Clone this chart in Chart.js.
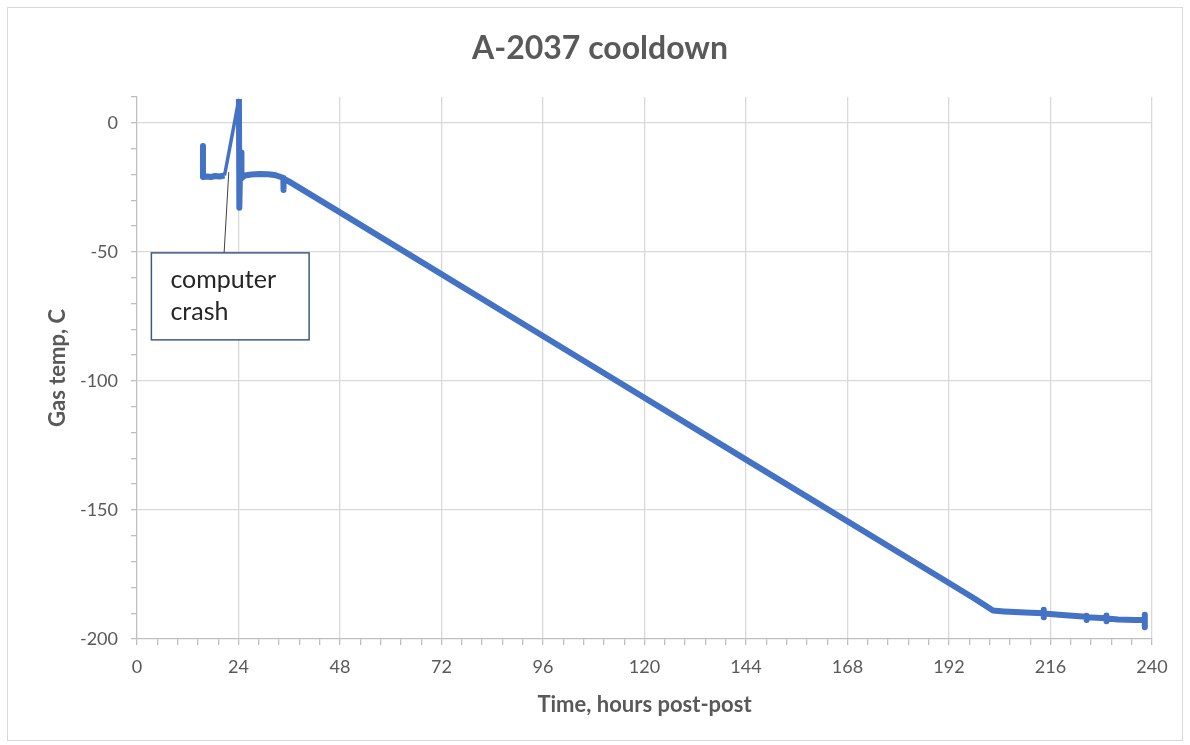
<!DOCTYPE html>
<html>
<head>
<meta charset="utf-8">
<script src="https://cdn.jsdelivr.net/npm/chart.js@4/dist/chart.umd.min.js"></script>
<style>
  html, body { margin: 0; padding: 0; background: #fff; }
  #wrap { width: 1190px; height: 745px; }
</style>
</head>
<body>
<div id="wrap"><canvas id="chart" width="1190" height="745"></canvas></div>
<script>
// ---- data (hours post-post, gas temp C) ----
const hours = [
  15.6, 15.6, 16.5, 17.5, 18.5, 19.5, 20.7,
  24.1, 24.2, 24.4, 24.6, 24.7,
  25.5, 27, 29, 31, 32.5, 34, 34.6, 34.6, 34.7, 36,
  48, 96, 144, 192, 198,
  202.4, 205, 210, 214.4, 214.4, 214.4, 214.5, 218, 222,
  224.5, 224.5, 224.5, 224.6, 229.2, 229.2, 229.2, 229.3, 232, 236,
  238.3, 238.3, 238.3, 238.3
];
const tempC = [
  -9.0, -21.0, -20.8, -21.0, -20.6, -20.8, -20.4,
  9.2, -32.9, -14.0, -11.5, -21.5,
  -20.4, -20.0, -19.8, -19.9, -20.2, -21.0, -21.4, -26.0, -21.6, -22.8,
  -34.7, -82.6, -130.5, -178.3, -184.3,
  -189.0, -189.3, -189.7, -190.0, -188.7, -191.6, -190.1, -190.6, -191.1,
  -191.4, -192.6, -191.0, -191.6, -192.0, -190.9, -193.1, -192.1, -192.4, -192.6,
  -192.6, -190.6, -195.4, -192.8
];

const xMajorTicks = [0, 24, 48, 72, 96, 120, 144, 168, 192, 216, 240];
const yMajorTicks = [-200, -150, -100, -50, 0];
const xMinorStep = 4.8;
const yMinorStep = 10;

const chartTitle = 'A-2037 cooldown';
const xTitle = 'Time, hours post-post';
const yTitle = 'Gas temp, C';
const calloutText = ['computer', 'crash'];
// callout box corners and pointer tip, in data units
const calloutBox = { x0: 3.4, x1: 40.7, y0: -50.4, y1: -84.1 };
const calloutTip = { x: 21.7, y: -19.1 };
const calloutBase = { x: 20.6, y: -50.4 };

// --------------------------------------------------------------------------
const FONT = 'Lato, "Noto Sans", sans-serif';
const TEXT_GREY = '#595959';

function isMajor(v, list) {
    return list.some(m => Math.abs(m - v) < 1e-6);
}

function buildTicks(min, max, step) {
    const out = [];
    const n = Math.round((max - min) / step);
    for (let i = 0; i <= n; i++) out.push({ value: +(min + i * step).toFixed(4) });
    return out;
}

const points = hours.map((h, i) => ({ x: h, y: tempC[i] }));

const frameAndCallout = {
    id: 'frameAndCallout',
    afterDraw(chart) {
        const { ctx, scales: { x, y } } = chart;
        ctx.save();
        // outer chart frame
        ctx.strokeStyle = '#d9d9d9';
        ctx.lineWidth = 1;
        ctx.strokeRect(7.5, 7.5, 1175, 733);

        // pointer line
        ctx.strokeStyle = '#404040';
        ctx.lineWidth = 1;
        ctx.beginPath();
        ctx.moveTo(x.getPixelForValue(calloutBase.x), y.getPixelForValue(calloutBase.y));
        ctx.lineTo(x.getPixelForValue(calloutTip.x), y.getPixelForValue(calloutTip.y));
        ctx.stroke();

        // callout box
        const bx = x.getPixelForValue(calloutBox.x0);
        const by = y.getPixelForValue(calloutBox.y0);
        const bw = x.getPixelForValue(calloutBox.x1) - bx;
        const bh = y.getPixelForValue(calloutBox.y1) - by;
        ctx.fillStyle = '#fff';
        ctx.fillRect(bx, by, bw, bh);
        ctx.strokeStyle = '#3f5a86';
        ctx.lineWidth = 1.5;
        ctx.strokeRect(bx, by, bw, bh);

        ctx.fillStyle = '#262626';
        ctx.font = '25px ' + FONT;
        ctx.textAlign = 'left';
        ctx.textBaseline = 'alphabetic';
        calloutText.forEach((t, i) => ctx.fillText(t, bx + 19, by + 35 + i * 32));
        ctx.restore();
    }
};

new Chart(document.getElementById('chart'), {
    type: 'line',
    data: {
        datasets: [{
            data: points,
            borderColor: '#4472c4',
            borderWidth: 6,
            borderJoinStyle: 'round',
            pointRadius: 0,
            tension: 0,
            segment: {
                borderWidth: c => (c.p1.parsed.y - c.p0.parsed.y > 20 ? 3.5 : 6)
            }
        }]
    },
    options: {
        responsive: false,
        animation: false,
        layout: { padding: { left: 48, right: 38, top: 0, bottom: 0 } },
        plugins: {
            legend: { display: false },
            tooltip: { enabled: false },
            title: {
                display: true,
                text: chartTitle,
                color: TEXT_GREY,
                font: { family: FONT, size: 32, weight: 'bold', lineHeight: 1.2 },
                padding: { top: 29, bottom: 29.6 }
            }
        },
        scales: {
            x: {
                type: 'linear',
                min: 0,
                max: 240,
                afterBuildTicks: s => { s.ticks = buildTicks(0, 240, xMinorStep); },
                afterFit: s => { s.height = 106; },
                ticks: {
                    autoSkip: false,
                    maxRotation: 0,
                    padding: 11,
                    color: TEXT_GREY,
                    font: { family: FONT, size: 18 },
                    callback: v => (isMajor(v, xMajorTicks) ? Math.round(v) : '')
                },
                grid: {
                    color: c => (c.tick && isMajor(c.tick.value, xMajorTicks) && c.tick.value > 0 ? '#d9d9d9' : 'rgba(0,0,0,0)'),
                    tickColor: '#bfbfbf',
                    tickLength: 6,
                    lineWidth: 1.3
                },
                border: { color: '#bfbfbf', width: 1.3 },
                title: {
                    display: true,
                    text: xTitle,
                    color: TEXT_GREY,
                    font: { family: FONT, size: 22, weight: 'bold', lineHeight: 1.2 },
                    padding: { top: 0, bottom: 27 }
                }
            },
            y: {
                min: -200,
                max: 10,
                afterBuildTicks: s => { s.ticks = buildTicks(-200, 10, yMinorStep); },
                afterFit: s => { s.width = 89; },
                ticks: {
                    autoSkip: false,
                    padding: 13,
                    color: TEXT_GREY,
                    font: { family: FONT, size: 18 },
                    callback: v => (isMajor(v, yMajorTicks) ? v : '')
                },
                grid: {
                    color: c => (c.tick && isMajor(c.tick.value, yMajorTicks) && c.tick.value > -200 ? '#d9d9d9' : 'rgba(0,0,0,0)'),
                    tickColor: '#bfbfbf',
                    tickLength: 6,
                    lineWidth: 1.3
                },
                border: { color: '#bfbfbf', width: 1.3 },
                title: {
                    display: true,
                    text: yTitle,
                    color: TEXT_GREY,
                    font: { family: FONT, size: 22, weight: 'bold', lineHeight: 1 },
                    padding: { top: -1, bottom: 0 }
                }
            }
        }
    },
    plugins: [frameAndCallout]
});
</script>
</body>
</html>
